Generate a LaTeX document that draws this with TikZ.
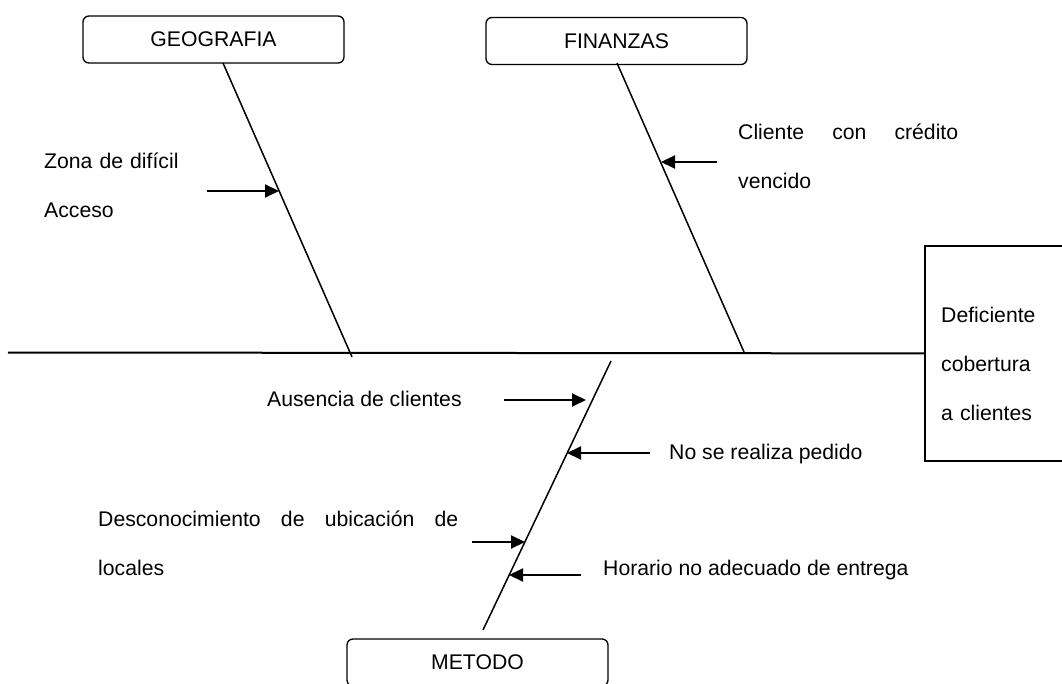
\documentclass[tikz,border=0pt]{standalone}
\usepackage{fontspec}
\setmainfont{Liberation Sans}
\usetikzlibrary{arrows.meta}
\hyphenpenalty=10000

\begin{document}
\begin{tikzpicture}[x=1pt,y=-1pt,
		causa/.style={draw,rounded corners=6pt,line width=1.3pt,minimum width=261pt,minimum height=47pt,inner sep=0pt,font=\fontsize{21.2}{25}\selectfont},
		texto/.style={inner sep=0pt,anchor=base west,font=\fontsize{21.2}{49}\selectfont},
		flecha/.style={line width=2pt,-{Triangle[length=14pt,width=13pt]}},
		espina/.style={line width=1.5pt}]
				\useasboundingbox (0,0) rectangle (1062,684);
				
				% cajas de causas
				\node[causa] (geografia) at (213.5,39.5) {GEOGRAFIA};
				\node[causa] (finanzas) at (616.5,41) {FINANZAS};
				\node[causa] (metodo) at (477.5,662.5) {METODO};
				
				% efecto
				\node[draw,line width=1.8pt,minimum width=160pt,minimum height=215pt,anchor=north west] (efecto) at (924,245) {};
				\node[texto,text width=120pt,align=left] (efectotxt) at (941,323) {Deficiente\\cobertura\\a clientes};
				
				\foreach \n/\a/\b in
				{inicio/8/352.5, g1/223/63, g2/352/357, f1/617/63, f2/744/352, m1/611/361, m2/483/630}{
					\coordinate (\n) at (\a,\b);
				}
				
				% espina central y espinas
				\draw[line width=2pt] (inicio)--(efecto.west);
				\foreach \x/\y in
				{g1/g2, f1/f2, m1/m2}{
					\draw[espina] (\x)--(\y);
				}
				
				% flechas (origen / punta)
				\foreach \n/\a/\b/\c/\d in
				{zona/207/191/279/191, cliente/717/162/661/162, ausencia/504/400/586/400, pedido/650/453/567/453, ubicacion/472/542/525/542, horario/581/575/509/575}{
					\coordinate (\n0) at (\a,\b);
					\coordinate (\n1) at (\c,\d);
					\draw[flecha] (\n0)--(\n1);
				}
				
				% textos
				\node[texto,text width=160pt,align=left] (zonatxt) at (44,169) {Zona de difícil\\Acceso};
				\node[texto,text width=220pt,align=justify] (clientetxt) at (738,140) {Cliente con crédito vencido};
				\node[texto] (ausenciatxt) at (267,406) {Ausencia de clientes};
				\node[texto] (pedidotxt) at (669,459) {No se realiza pedido};
				\node[texto,text width=360pt,align=justify] (ubicaciontxt) at (98,526) {Desconocimiento de ubicación de locales};
				\node[texto] (horariotxt) at (603,575) {Horario no adecuado de entrega};
			\end{tikzpicture}
\end{document}
